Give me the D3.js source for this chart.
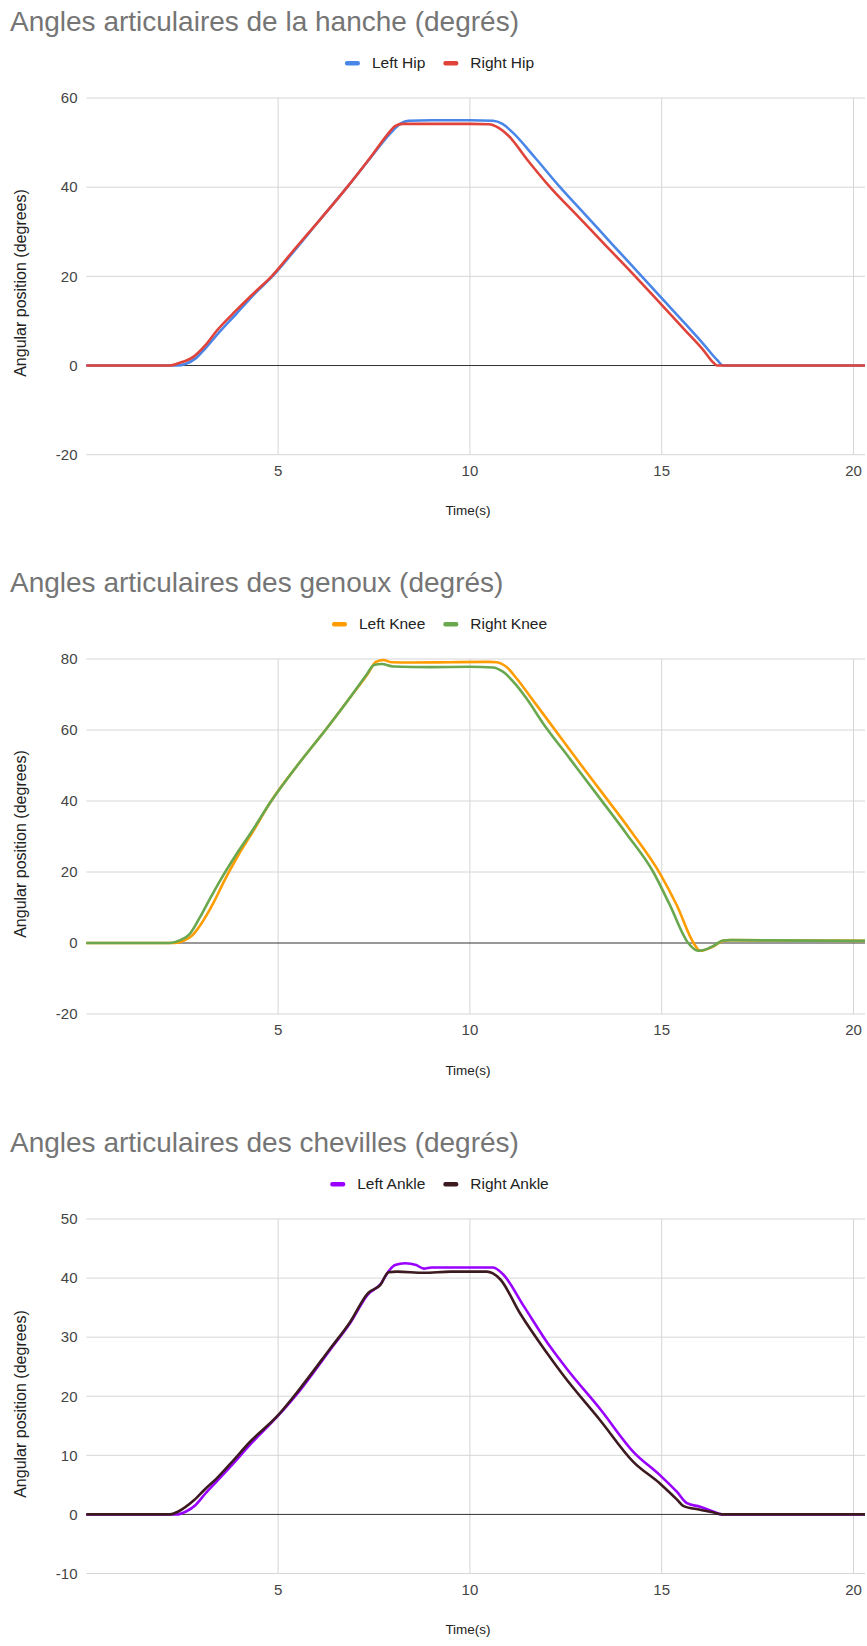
<!DOCTYPE html>
<html>
<head>
<meta charset="utf-8">
<script src="https://cdn.jsdelivr.net/npm/d3@7"></script>
<style>
  html, body { margin: 0; padding: 0; background: #fff; }
  svg { display: block; }
  text { font-family: Arial, "Liberation Sans", sans-serif; }
</style>
</head>
<body>
<svg id="chart" width="867" height="1646"></svg>
<script>
// ---------- Data (time in s, angle in degrees) ----------
const chartTitles = [
  "Angles articulaires de la hanche (degrés)",
  "Angles articulaires des genoux (degrés)",
  "Angles articulaires des chevilles (degrés)"
];
const seriesNames = [["Left Hip", "Right Hip"], ["Left Knee", "Right Knee"], ["Left Ankle", "Right Ankle"]];
const xTicks = [5, 10, 15, 20];
const yTicksHip = [-20, 0, 20, 40, 60];
const yTicksKnee = [-20, 0, 20, 40, 60, 80];
const yTicksAnkle = [-10, 0, 10, 20, 30, 40, 50];
const xAxisTitle = "Time(s)";
const yAxisTitle = "Angular position (degrees)";

const leftHip = [[0,0],[2.35,0],[2.6,0.4],[2.85,1.6],[3.1,3.8],[3.45,7.3],[3.9,11.5],[4.4,16.2],[4.85,20],[5.4,25.5],[6.1,32.8],[6.8,40],[7.4,46.5],[7.95,52.3],[8.2,54.3],[8.4,54.9],[9,55],[10,55],[10.6,54.9],[10.85,54.2],[11.1,52.4],[11.7,46.6],[12.35,40],[13,33.9],[13.7,27.3],[14.48,20],[15,15.1],[15.6,9.5],[16.1,4.7],[16.45,1.2],[16.6,0],[20.3,0]];
const rightHip = [[0,0],[2.18,0],[2.4,0.5],[2.8,2],[3.1,4.5],[3.4,7.8],[3.9,12.3],[4.4,16.5],[4.83,20],[5.4,25.8],[6.1,32.8],[6.8,40],[7.4,46.6],[7.85,51.8],[8.05,53.7],[8.25,54.2],[9,54.2],[10,54.2],[10.5,54.1],[10.75,53.3],[11.0,51.6],[11.5,46.1],[12.09,40],[12.8,33.6],[13.5,27.3],[14.31,20],[15,13.6],[15.6,8.0],[16.1,3.3],[16.35,0.6],[16.45,0],[20.3,0]];

const leftKnee = [[0,0],[2.31,0],[2.55,0.7],[2.75,2],[2.97,5],[3.3,11],[3.62,18],[3.95,24.5],[4.35,31.5],[4.79,39.5],[5.5,50],[6.27,60.5],[6.9,69.5],[7.35,76],[7.55,79.2],[7.75,79.7],[7.95,79.1],[8.5,79],[9.5,79.1],[10.5,79.2],[10.7,79.1],[10.95,77.8],[11.22,74.5],[11.6,69],[12.05,62.5],[12.7,53],[13.4,43],[14.2,31.5],[14.96,19.5],[15.4,10.5],[15.83,0],[16.0,-2.2],[16.3,-1.2],[16.6,0.6],[16.8,0.8],[20.3,0.6]];
const rightKnee = [[0,0],[2.18,0],[2.45,0.8],[2.7,2.6],[2.96,7.2],[3.2,12],[3.5,17.8],[3.9,24.8],[4.3,31.2],[4.79,39.5],[5.5,50],[6.27,60.5],[6.9,69.5],[7.3,75.5],[7.5,78.3],[7.7,78.6],[8.0,77.9],[9,77.7],[10,77.8],[10.6,77.6],[10.85,76.5],[11.22,72.5],[11.5,68.5],[11.9,62],[12.6,52],[13.3,42],[14.1,30.5],[14.78,20],[15.2,11],[15.69,0],[15.95,-2.2],[16.1,-2.0],[16.35,-0.8],[16.6,0.7],[16.8,0.8],[20.3,0.6]];

const leftAnkle = [[0,0],[2.36,0],[2.6,0.5],[2.85,1.6],[3.1,3.5],[3.4,5.6],[3.8,8.4],[4.27,11.8],[5,16.7],[5.57,21],[6.35,27.8],[6.87,32.3],[7.35,37.3],[7.66,38.9],[7.9,41.3],[8.05,42.2],[8.31,42.5],[8.6,42.2],[8.8,41.6],[9.0,41.8],[10,41.8],[10.6,41.8],[10.87,40.6],[11.4,35.3],[12.09,28.4],[12.53,24.6],[13.4,17.8],[14.26,10.6],[14.96,6.6],[15.4,3.8],[15.66,1.9],[16.0,1.3],[16.3,0.6],[16.57,0],[20.3,0]];
const rightAnkle = [[0,0],[2.18,0],[2.4,0.5],[2.79,2.3],[3.1,4.3],[3.4,6.1],[3.8,8.9],[4.27,12.3],[5,16.8],[5.57,21.3],[6.35,28],[6.87,32.5],[7.35,37.5],[7.66,38.8],[7.88,41],[8.1,41.1],[8.8,40.9],[9.5,41.1],[10.44,41.1],[10.6,40.8],[10.79,39.8],[11.31,34],[12.0,27.4],[12.44,23.5],[13.4,15.9],[14.26,8.9],[14.96,5.2],[15.4,2.5],[15.57,1.4],[16.0,0.8],[16.3,0.4],[16.57,0],[20.3,0]];

// ---------- Layout / style ----------
const colors = [["#4a86e8", "#e0433a"], ["#ff9d00", "#6aa84f"], ["#9900ff", "#3d1a20"]];
const charts = [
  { title: chartTitles[0], names: seriesNames[0], data: [leftHip, rightHip], yTicks: yTicksHip, yDomain: [-20, 60], top: 98, bottom: 454.7, colors: colors[0] },
  { title: chartTitles[1], names: seriesNames[1], data: [leftKnee, rightKnee], yTicks: yTicksKnee, yDomain: [-20, 80], top: 659, bottom: 1014, colors: colors[1] },
  { title: chartTitles[2], names: seriesNames[2], data: [leftAnkle, rightAnkle], yTicks: yTicksAnkle, yDomain: [-10, 50], top: 1219, bottom: 1573.5, colors: colors[2] }
];
const plotLeft = 86.3, plotRight = 865;
const xMax = 20.3;

const svg = d3.select("#chart");

charts.forEach(cfg => {
  const g = svg.append("g");
  const x = d3.scaleLinear().domain([0, xMax]).range([plotLeft, plotRight]);
  const y = d3.scaleLinear().domain(cfg.yDomain).range([cfg.bottom, cfg.top]);

  // Title
  g.append("text")
    .attr("x", 10).attr("y", cfg.top - 67)
    .attr("font-size", 28).attr("fill", "#757575")
    .text(cfg.title);

  // Horizontal gridlines
  g.append("g").selectAll("line").data(cfg.yTicks.filter(d => d !== 0)).join("line")
    .attr("x1", plotLeft).attr("x2", plotRight)
    .attr("y1", d => y(d)).attr("y2", d => y(d))
    .attr("stroke", "#d6d6d6").attr("stroke-width", 1);
  // Vertical gridlines
  g.append("g").selectAll("line").data(xTicks).join("line")
    .attr("x1", d => x(d)).attr("x2", d => x(d))
    .attr("y1", cfg.top).attr("y2", cfg.bottom)
    .attr("stroke", "#d6d6d6").attr("stroke-width", 1);

  // Y tick labels
  g.append("g").selectAll("text").data(cfg.yTicks).join("text")
    .attr("x", 77.5).attr("y", d => y(d))
    .attr("dy", "0.35em").attr("text-anchor", "end")
    .attr("font-size", 15).attr("fill", "#444")
    .text(d => d);
  // X tick labels
  g.append("g").selectAll("text").data(xTicks).join("text")
    .attr("x", d => x(d)).attr("y", cfg.bottom + 16)
    .attr("dy", "0.35em").attr("text-anchor", "middle")
    .attr("font-size", 15).attr("fill", "#444")
    .text(d => d);

  // Axis titles
  g.append("text")
    .attr("x", 468).attr("y", cfg.bottom + 56).attr("dy", "0.35em")
    .attr("text-anchor", "middle").attr("font-size", 13.5).attr("fill", "#222")
    .text(xAxisTitle);
  g.append("text")
    .attr("transform", `translate(20,${cfg.top + 185}) rotate(-90)`)
    .attr("dy", "0.35em").attr("text-anchor", "middle")
    .attr("font-size", 16).attr("fill", "#222")
    .text(yAxisTitle);

  // Zero baseline (drawn under series)
  g.append("line")
    .attr("x1", plotLeft).attr("x2", plotRight)
    .attr("y1", y(0)).attr("y2", y(0))
    .attr("stroke", "#333").attr("stroke-width", 1);

  // Lines
  const line = d3.line().x(d => x(d[0])).y(d => y(d[1])).curve(d3.curveMonotoneX);
  cfg.data.forEach((s, i) => {
    g.append("path").datum(s)
      .attr("d", line)
      .attr("fill", "none")
      .attr("stroke", cfg.colors[i])
      .attr("stroke-width", 2.6)
      .attr("stroke-linejoin", "round");
  });

  // Legend
  const lg = g.append("g");
  const ly = cfg.top - 35;
  let cx = 0;
  cfg.names.forEach((n, i) => {
    const it = lg.append("g").attr("transform", `translate(${cx},0)`);
    it.append("rect").attr("x", 0).attr("y", ly - 2).attr("width", 15).attr("height", 4.5).attr("rx", 2)
      .attr("fill", cfg.colors[i]);
    const t = it.append("text").attr("x", 27).attr("y", ly).attr("dy", "0.35em")
      .attr("font-size", 15.5).attr("fill", "#222").text(n);
    const w = t.node().getComputedTextLength();
    cx += 27 + w + 18;
  });
  const totalW = cx - 18;
  lg.attr("transform", `translate(${439.5 - totalW / 2},0)`);
});
</script>
</body>
</html>
